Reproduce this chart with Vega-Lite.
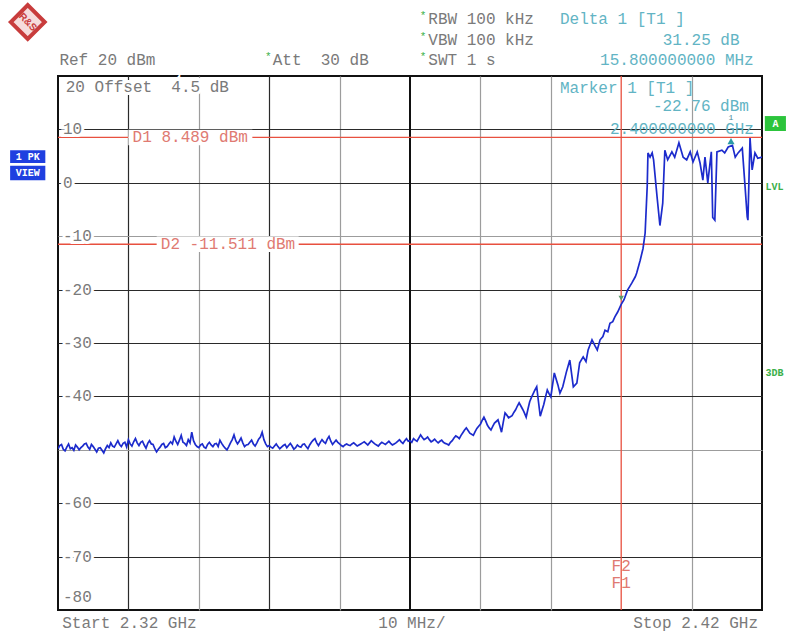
{
  "$schema": "https://vega.github.io/schema/vega-lite/v6.json",
  "width": 704,
  "height": 534,
  "autosize": {"type": "none"},
  "padding": {"left": 58, "top": 76, "right": 28, "bottom": 25},
  "background": "white",
  "config": {
    "view": {"stroke": "#111", "strokeWidth": 2},
    "text": {"font": "Liberation Mono", "fontSize": 16, "baseline": "middle", "align": "left"}
  },
  "datasets": {
    "trace": [
      {"f":2320.0,"v":-49.8},{"f":2320.25,"v":-49.2},{"f":2320.5,"v":-49.0},{"f":2320.75,"v":-49.9},{"f":2321.0,"v":-50.2},{"f":2321.25,"v":-49.5},{"f":2321.5,"v":-48.9},{"f":2321.75,"v":-49.8},
      {"f":2322.0,"v":-49.6},{"f":2322.25,"v":-50.1},{"f":2322.5,"v":-49.1},{"f":2322.75,"v":-49.5},{"f":2323.0,"v":-50.0},{"f":2323.25,"v":-49.6},{"f":2323.5,"v":-49.3},{"f":2323.75,"v":-48.9},
      {"f":2324.0,"v":-48.8},{"f":2324.25,"v":-49.5},{"f":2324.5,"v":-49.9},{"f":2324.75,"v":-49.0},{"f":2325.0,"v":-49.4},{"f":2325.25,"v":-49.9},{"f":2325.5,"v":-50.4},{"f":2325.75,"v":-49.7},
      {"f":2326.0,"v":-49.6},{"f":2326.25,"v":-50.1},{"f":2326.5,"v":-50.6},{"f":2326.75,"v":-49.8},{"f":2327.0,"v":-49.2},{"f":2327.25,"v":-49.6},{"f":2327.5,"v":-48.7},{"f":2327.75,"v":-49.3},
      {"f":2328.0,"v":-49.5},{"f":2328.25,"v":-48.9},{"f":2328.5,"v":-48.3},{"f":2328.75,"v":-49.0},{"f":2329.0,"v":-49.4},{"f":2329.25,"v":-48.8},{"f":2329.5,"v":-48.6},{"f":2329.75,"v":-49.5},
      {"f":2330.0,"v":-48.1},{"f":2330.25,"v":-48.9},{"f":2330.5,"v":-49.3},{"f":2330.75,"v":-48.5},{"f":2331.0,"v":-47.9},{"f":2331.25,"v":-48.7},{"f":2331.5,"v":-49.2},{"f":2331.75,"v":-48.6},
      {"f":2332.0,"v":-48.4},{"f":2332.25,"v":-49.1},{"f":2332.5,"v":-49.7},{"f":2332.75,"v":-48.8},{"f":2333.0,"v":-48.3},{"f":2333.25,"v":-48.9},{"f":2333.5,"v":-49.0},{"f":2333.75,"v":-49.8},
      {"f":2334.0,"v":-50.4},{"f":2334.25,"v":-49.9},{"f":2334.5,"v":-49.5},{"f":2334.75,"v":-49.0},{"f":2335.0,"v":-48.8},{"f":2335.25,"v":-49.6},{"f":2335.5,"v":-49.4},{"f":2335.75,"v":-48.9},
      {"f":2336.0,"v":-48.5},{"f":2336.25,"v":-48.9},{"f":2336.5,"v":-47.6},{"f":2336.75,"v":-48.4},{"f":2337.0,"v":-49.0},{"f":2337.25,"v":-48.2},{"f":2337.5,"v":-47.3},{"f":2337.75,"v":-48.6},
      {"f":2338.0,"v":-48.8},{"f":2338.25,"v":-49.2},{"f":2338.5,"v":-48.1},{"f":2338.75,"v":-48.7},{"f":2339.0,"v":-46.7},{"f":2339.25,"v":-48.3},{"f":2339.5,"v":-49.0},{"f":2339.75,"v":-49.4},
      {"f":2340.0,"v":-49.6},{"f":2340.25,"v":-49.1},{"f":2340.5,"v":-48.9},{"f":2340.75,"v":-49.5},{"f":2341.0,"v":-49.7},{"f":2341.25,"v":-49.0},{"f":2341.5,"v":-48.6},{"f":2341.75,"v":-49.1},
      {"f":2342.0,"v":-49.4},{"f":2342.25,"v":-48.9},{"f":2342.5,"v":-48.8},{"f":2342.75,"v":-49.4},{"f":2343.0,"v":-48.2},{"f":2343.25,"v":-48.8},{"f":2343.5,"v":-49.3},{"f":2343.75,"v":-49.7},
      {"f":2344.0,"v":-50.0},{"f":2344.25,"v":-49.4},{"f":2344.5,"v":-48.7},{"f":2344.75,"v":-48.1},{"f":2345.0,"v":-47.2},{"f":2345.25,"v":-48.3},{"f":2345.5,"v":-48.9},{"f":2345.75,"v":-48.4},
      {"f":2346.0,"v":-47.8},{"f":2346.25,"v":-48.7},{"f":2346.5,"v":-49.4},{"f":2346.75,"v":-49.1},{"f":2347.0,"v":-49.0},{"f":2347.25,"v":-48.6},{"f":2347.5,"v":-48.2},{"f":2347.75,"v":-48.9},
      {"f":2348.0,"v":-49.3},{"f":2348.25,"v":-48.7},{"f":2348.5,"v":-48.0},{"f":2348.75,"v":-47.6},{"f":2349.0,"v":-46.7},{"f":2349.25,"v":-48.1},{"f":2349.5,"v":-48.9},{"f":2349.75,"v":-49.4},
      {"f":2350.0,"v":-49.2},{"f":2350.25,"v":-49.5},{"f":2350.5,"v":-49.7},{"f":2350.75,"v":-49.3},{"f":2351.0,"v":-48.9},{"f":2351.25,"v":-49.4},{"f":2351.5,"v":-49.8},{"f":2351.75,"v":-49.5},
      {"f":2352.0,"v":-49.2},{"f":2352.25,"v":-49.0},{"f":2352.5,"v":-49.6},{"f":2352.75,"v":-49.2},{"f":2353.0,"v":-48.8},{"f":2353.25,"v":-49.3},{"f":2353.5,"v":-49.9},{"f":2353.75,"v":-49.6},
      {"f":2354.0,"v":-49.1},{"f":2354.25,"v":-49.4},{"f":2354.5,"v":-49.5},{"f":2354.75,"v":-49.0},{"f":2355.0,"v":-48.9},{"f":2355.25,"v":-49.4},{"f":2355.5,"v":-49.8},{"f":2355.75,"v":-49.1},
      {"f":2356.0,"v":-48.6},{"f":2356.25,"v":-48.2},{"f":2356.5,"v":-47.9},{"f":2356.75,"v":-48.7},{"f":2357.0,"v":-49.2},{"f":2357.25,"v":-48.6},{"f":2357.5,"v":-48.1},{"f":2357.75,"v":-48.5},
      {"f":2358.0,"v":-48.8},{"f":2358.25,"v":-48.0},{"f":2358.5,"v":-47.5},{"f":2358.75,"v":-48.4},{"f":2359.0,"v":-49.0},{"f":2359.25,"v":-48.6},{"f":2359.5,"v":-48.2},{"f":2359.75,"v":-48.6},
      {"f":2360.0,"v":-48.9},{"f":2360.25,"v":-49.2},{"f":2360.5,"v":-49.4},{"f":2360.75,"v":-49.1},{"f":2361.0,"v":-48.9},{"f":2361.25,"v":-49.1},{"f":2361.5,"v":-49.2},{"f":2361.75,"v":-48.9},
      {"f":2362.0,"v":-48.7},{"f":2362.25,"v":-49.0},{"f":2362.5,"v":-49.3},{"f":2362.75,"v":-49.1},{"f":2363.0,"v":-48.9},{"f":2363.25,"v":-48.7},{"f":2363.5,"v":-48.5},{"f":2363.75,"v":-48.8},
      {"f":2364.0,"v":-49.1},{"f":2364.25,"v":-48.7},{"f":2364.5,"v":-48.3},{"f":2364.75,"v":-48.6},{"f":2365.0,"v":-48.9},{"f":2365.25,"v":-49.1},{"f":2365.5,"v":-49.3},{"f":2365.75,"v":-48.9},
      {"f":2366.0,"v":-48.6},{"f":2366.25,"v":-48.8},{"f":2366.5,"v":-49.0},{"f":2366.75,"v":-48.7},{"f":2367.0,"v":-48.4},{"f":2367.25,"v":-48.8},{"f":2367.5,"v":-49.1},{"f":2367.75,"v":-48.9},
      {"f":2368.0,"v":-48.7},{"f":2368.25,"v":-48.4},{"f":2368.5,"v":-48.1},{"f":2368.75,"v":-48.5},{"f":2369.0,"v":-48.8},{"f":2369.25,"v":-48.3},{"f":2369.5,"v":-47.9},{"f":2369.75,"v":-48.4},
      {"f":2370.0,"v":-48.3},{"f":2370.25,"v":-48.6},{"f":2370.5,"v":-47.9},{"f":2370.75,"v":-48.2},{"f":2371.0,"v":-48.4},{"f":2371.25,"v":-47.8},{"f":2371.5,"v":-47.2},{"f":2371.75,"v":-47.7},
      {"f":2372.0,"v":-48.1},{"f":2372.25,"v":-47.9},{"f":2372.5,"v":-47.6},{"f":2372.75,"v":-48.1},{"f":2373.0,"v":-48.5},{"f":2373.25,"v":-48.3},{"f":2373.5,"v":-48.0},{"f":2373.75,"v":-48.4},
      {"f":2374.0,"v":-48.7},{"f":2374.25,"v":-48.4},{"f":2374.5,"v":-48.2},{"f":2374.75,"v":-48.6},{"f":2375.0,"v":-48.8},{"f":2375.25,"v":-48.9},{"f":2375.5,"v":-49.1},{"f":2375.75,"v":-48.6},
      {"f":2376.0,"v":-48.3},{"f":2376.25,"v":-47.8},{"f":2376.5,"v":-47.4},{"f":2376.75,"v":-47.6},{"f":2377.0,"v":-47.9},{"f":2377.25,"v":-47.3},{"f":2377.5,"v":-46.8},{"f":2377.75,"v":-46.3},
      {"f":2378.0,"v":-45.9},{"f":2378.25,"v":-46.4},{"f":2378.5,"v":-46.9},{"f":2378.75,"v":-47.1},{"f":2379.0,"v":-47.3},{"f":2379.25,"v":-46.6},{"f":2379.5,"v":-46.0},{"f":2379.75,"v":-45.6},
      {"f":2380.0,"v":-45.2},{"f":2380.25,"v":-44.5},{"f":2380.5,"v":-43.9},{"f":2380.75,"v":-44.6},{"f":2381.0,"v":-45.4},{"f":2381.25,"v":-45.9},{"f":2381.5,"v":-46.3},{"f":2381.75,"v":-45.6},
      {"f":2382.0,"v":-45.0},{"f":2382.25,"v":-44.7},{"f":2382.5,"v":-44.4},{"f":2382.75,"v":-45.5},{"f":2383.0,"v":-46.7},{"f":2383.25,"v":-44.8},{"f":2383.5,"v":-43.1},{"f":2383.75,"v":-43.5},
      {"f":2384.0,"v":-44.0},{"f":2384.25,"v":-43.8},{"f":2384.5,"v":-43.6},{"f":2384.75,"v":-43.0},{"f":2385.0,"v":-42.5},{"f":2385.25,"v":-41.8},{"f":2385.5,"v":-41.2},{"f":2385.75,"v":-41.8},
      {"f":2386.0,"v":-42.4},{"f":2386.25,"v":-43.1},{"f":2386.5,"v":-43.9},{"f":2386.75,"v":-42.4},{"f":2387.0,"v":-41.0},{"f":2387.25,"v":-40.2},{"f":2387.5,"v":-39.5},{"f":2387.75,"v":-38.8},
      {"f":2388.0,"v":-38.2},{"f":2388.25,"v":-41.0},{"f":2388.5,"v":-43.7},{"f":2388.75,"v":-42.6},{"f":2389.0,"v":-41.5},{"f":2389.25,"v":-40.1},{"f":2389.5,"v":-38.8},{"f":2389.75,"v":-39.5},
      {"f":2390.0,"v":-40.1},{"f":2390.5,"v":-35.6},{"f":2391.0,"v":-37.8},{"f":2391.3,"v":-39.4},{"f":2391.7,"v":-38.2},{"f":2392.2,"v":-35.5},{"f":2392.7,"v":-33.2},{"f":2393.2,"v":-38.2},{"f":2393.7,"v":-37.5},{"f":2394.1,"v":-33.7},
      {"f":2394.6,"v":-32.6},{"f":2395.0,"v":-33.5},{"f":2395.3,"v":-31.3},{"f":2395.85,"v":-29.4},{"f":2396.3,"v":-30.6},{"f":2396.6,"v":-31.3},{"f":2397.0,"v":-29.4},{"f":2397.4,"v":-28.8},{"f":2397.7,"v":-27.6},{"f":2398.1,"v":-27.9},
      {"f":2398.4,"v":-26.3},{"f":2398.8,"v":-26.0},{"f":2399.1,"v":-25.1},{"f":2399.5,"v":-24.2},{"f":2400.0,"v":-22.76},{"f":2400.4,"v":-21.9},{"f":2400.9,"v":-20.1},{"f":2401.5,"v":-18.8},{"f":2402.0,"v":-17.6},{"f":2402.2,"v":-16.9},
      {"f":2402.7,"v":-14.5},{"f":2403.1,"v":-12.3},{"f":2403.4,"v":-9.4},{"f":2403.7,"v":-0.5},{"f":2403.8,"v":5.6},{"f":2404.1,"v":4.8},{"f":2404.4,"v":5.6},{"f":2404.6,"v":4.3},{"f":2405.1,"v":-2.7},{"f":2405.5,"v":-8.0},
      {"f":2405.9,"v":-3.8},{"f":2406.2,"v":6.1},{"f":2406.6,"v":4.3},{"f":2407.2,"v":5.8},{"f":2407.6,"v":4.8},{"f":2408.2,"v":7.5},{"f":2408.8,"v":4.8},{"f":2409.3,"v":4.3},{"f":2409.8,"v":5.8},{"f":2410.2,"v":3.9},
      {"f":2410.8,"v":5.8},{"f":2411.2,"v":3.7},{"f":2411.6,"v":0.5},{"f":2411.9,"v":4.8},{"f":2412.3,"v":0.0},{"f":2412.8,"v":5.8},{"f":2413.0,"v":-6.5},{"f":2413.3,"v":-7.0},{"f":2413.6,"v":5.8},{"f":2414.3,"v":6.1},
      {"f":2414.7,"v":5.6},{"f":2415.2,"v":6.7},{"f":2415.8,"v":7.0},{"f":2416.2,"v":4.8},{"f":2416.6,"v":5.6},{"f":2417.2,"v":6.5},{"f":2417.6,"v":-0.8},{"f":2417.9,"v":-6.4},{"f":2418.0,"v":-7.0},{"f":2418.3,"v":8.4},
      {"f":2418.6,"v":2.4},{"f":2419.0,"v":5.6},{"f":2419.4,"v":4.6},{"f":2420.0,"v":4.8}
    ],
    "ylabels": [
      {"f":2320.7,"v":10,"t":"10"},{"f":2320.7,"v":0,"t":"0"},{"f":2320.7,"v":-10,"t":"-10"},{"f":2320.7,"v":-20,"t":"-20"},
      {"f":2320.7,"v":-30,"t":"-30"},{"f":2320.7,"v":-40,"t":"-40"},{"f":2320.7,"v":-60,"t":"-60"},{"f":2320.7,"v":-70,"t":"-70"},
      {"f":2320.7,"v":-77.6,"t":"-80"},{"f":2321.1,"v":17.9,"t":"20 Offset\u00a0\u00a04.5 dB"}
    ],
    "grayText": [
      {"f":2320.2,"v":23.0,"t":"Ref 20 dBm"},
      {"f":2350.5,"v":23.0,"t":"Att\u00a0\u00a030 dB"},
      {"f":2372.6,"v":30.7,"t":"RBW 100 kHz"},
      {"f":2372.6,"v":26.7,"t":"VBW 100 kHz"},
      {"f":2372.6,"v":23.0,"t":"SWT 1 s"},
      {"f":2320.6,"v":-82.4,"t":"Start 2.32 GHz"},
      {"f":2365.5,"v":-82.4,"t":"10 MHz/"},
      {"f":2401.7,"v":-82.4,"t":"Stop 2.42 GHz"}
    ],
    "stars": [
      {"f":2349.4,"v":23.6},{"f":2371.4,"v":31.3},{"f":2371.4,"v":27.3},{"f":2371.4,"v":23.6}
    ],
    "cyanText": [
      {"f":2391.3,"v":30.7,"t":"Delta 1 [T1 ]"},
      {"f":2405.9,"v":26.7,"t":"31.25 dB"},
      {"f":2397.0,"v":23.0,"t":"15.800000000 MHz"},
      {"f":2391.3,"v":17.7,"t":"Marker 1 [T1 ]"},
      {"f":2404.5,"v":14.4,"t":"-22.76 dBm"},
      {"f":2398.4,"v":10.0,"t":"2.400000000 GHz"}
    ],
    "markerNum": [{"f":2415.6,"v":12.1,"t":"1"}],
    "dlines": [{"v":8.489},{"v":-11.511}],
    "d1box": [{"f":2338.8,"v":8.489}],
    "d2box": [{"f":2344.1,"v":-11.511}],
    "dlabels": [
      {"f":2330.6,"v":8.489,"t":"D1 8.489 dBm"},
      {"f":2334.6,"v":-11.511,"t":"D2 -11.511 dBm"}
    ],
    "flines": [{"f":2400}],
    "flabels": [
      {"f":2400,"v":-71.8,"t":"F2"},
      {"f":2400,"v":-74.9,"t":"F1"}
    ],
    "blueBoxes": [
      {"f":2313.2,"f2":2318.2,"v":6.1,"v2":3.7,"fm":2315.7,"vm":4.9,"t":"1 PK"},
      {"f":2313.2,"f2":2318.2,"v":3.2,"v2":0.5,"fm":2315.7,"vm":1.85,"t":"VIEW"}
    ],
    "greenBoxes": [
      {"f":2420.4,"f2":2423.4,"v":12.5,"v2":9.7,"fm":2421.9,"vm":11.1,"t":"A"}
    ],
    "greenText": [
      {"f":2420.5,"v":-0.8,"t":"LVL"},
      {"f":2420.5,"v":-35.6,"t":"3DB"}
    ],
    "logo": [{"f":2315.7,"v":30.1,"t":"R&S"}],
    "deltaMarker": [{"f":2415.6,"v":7.8}],
    "marker1": [{"f":2400,"v":-21.6}]
  },
  "layer": [
    {
      "data": {"name": "trace"},
      "mark": {"type": "line", "opacity": 0},
      "encoding": {
        "x": {"field": "f", "type": "quantitative",
              "scale": {"domain": [2320, 2420], "nice": false, "zero": false},
              "axis": {"title": null, "labels": false, "ticks": false, "domain": false, "grid": true,
                       "values": [2330, 2340, 2350, 2360, 2380, 2390, 2410],
                       "gridColor": {"condition": {"test": "indexof([2330,2350], datum.value) >= 0", "value": "#2a2a2a"}, "value": "#9c9c9c"},
                       "gridWidth": 1.2, "gridOpacity": 1}},
        "y": {"field": "v", "type": "quantitative",
              "scale": {"domain": [-80, 20], "nice": false, "zero": false},
              "axis": {"title": null, "labels": false, "ticks": false, "domain": false, "grid": true,
                       "values": [10, 0, -10, -20, -30, -40, -50, -60, -70],
                       "gridColor": {"condition": {"test": "indexof([-10,-50], datum.value) >= 0", "value": "#9c9c9c"}, "value": "#2a2a2a"},
                       "gridWidth": 1.2, "gridOpacity": 1}}
      }
    },
    {
      "data": {"values": [{"f": 2370}]},
      "mark": {"type": "rule", "color": "#111", "strokeWidth": 2},
      "encoding": {"x": {"field": "f", "type": "quantitative"}}
    },
    {
      "data": {"name": "dlines"},
      "mark": {"type": "rule", "color": "#e8503f", "strokeWidth": 1.3},
      "encoding": {"y": {"field": "v", "type": "quantitative"}}
    },
    {
      "data": {"name": "flines"},
      "mark": {"type": "rule", "color": "#e8503f", "strokeWidth": 1.3},
      "encoding": {"x": {"field": "f", "type": "quantitative"}}
    },
    {
      "data": {"name": "d1box"},
      "mark": {"type": "point", "shape": "M-1,-0.125H1V0.125H-1Z", "size": 15376, "filled": true, "color": "white", "opacity": 1, "strokeWidth": 0},
      "encoding": {"x": {"field": "f", "type": "quantitative"}, "y": {"field": "v", "type": "quantitative"}}
    },
    {
      "data": {"name": "d2box"},
      "mark": {"type": "point", "shape": "M-1,-0.11H1V0.11H-1Z", "size": 20164, "filled": true, "color": "white", "opacity": 1, "strokeWidth": 0},
      "encoding": {"x": {"field": "f", "type": "quantitative"}, "y": {"field": "v", "type": "quantitative"}}
    },
    {
      "data": {"name": "dlabels"},
      "mark": {"type": "text", "color": "#e07a72", "clip": false},
      "encoding": {"x": {"field": "f", "type": "quantitative"}, "y": {"field": "v", "type": "quantitative"}, "text": {"field": "t"}}
    },
    {
      "data": {"name": "ylabels"},
      "mark": {"type": "text", "stroke": "white", "strokeWidth": 6, "fill": "white", "clip": false},
      "encoding": {"x": {"field": "f", "type": "quantitative"}, "y": {"field": "v", "type": "quantitative"}, "text": {"field": "t"}}
    },
    {
      "data": {"name": "ylabels"},
      "mark": {"type": "text", "color": "#7a7a7a", "clip": false},
      "encoding": {"x": {"field": "f", "type": "quantitative"}, "y": {"field": "v", "type": "quantitative"}, "text": {"field": "t"}}
    },
    {
      "data": {"name": "cyanText"},
      "mark": {"type": "text", "color": "#62b4c4", "clip": false},
      "encoding": {"x": {"field": "f", "type": "quantitative"}, "y": {"field": "v", "type": "quantitative"}, "text": {"field": "t"}}
    },
    {
      "data": {"name": "markerNum"},
      "mark": {"type": "text", "color": "#4a8a9a", "fontSize": 8, "align": "center", "clip": false},
      "encoding": {"x": {"field": "f", "type": "quantitative"}, "y": {"field": "v", "type": "quantitative"}, "text": {"field": "t"}}
    },
    {
      "data": {"name": "trace"},
      "mark": {"type": "line", "color": "#1c2bcc", "strokeWidth": 1.7, "clip": true},
      "encoding": {"x": {"field": "f", "type": "quantitative"}, "y": {"field": "v", "type": "quantitative"}}
    },
    {
      "data": {"name": "flabels"},
      "mark": {"type": "text", "color": "#e07a72", "align": "center", "clip": false},
      "encoding": {"x": {"field": "f", "type": "quantitative"}, "y": {"field": "v", "type": "quantitative"}, "text": {"field": "t"}}
    },
    {
      "data": {"name": "deltaMarker"},
      "mark": {"type": "point", "shape": "triangle-up", "filled": true, "size": 50, "color": "#2a9aa6", "opacity": 1},
      "encoding": {"x": {"field": "f", "type": "quantitative"}, "y": {"field": "v", "type": "quantitative"}}
    },
    {
      "data": {"name": "marker1"},
      "mark": {"type": "point", "shape": "triangle-down", "filled": true, "size": 30, "color": "#5e9a6c", "opacity": 1},
      "encoding": {"x": {"field": "f", "type": "quantitative"}, "y": {"field": "v", "type": "quantitative"}}
    },
    {
      "data": {"name": "grayText"},
      "mark": {"type": "text", "color": "#7a7a7a", "clip": false},
      "encoding": {"x": {"field": "f", "type": "quantitative"}, "y": {"field": "v", "type": "quantitative"}, "text": {"field": "t"}}
    },
    {
      "data": {"name": "stars"},
      "mark": {"type": "text", "color": "#3cb04a", "fontSize": 11, "text": "*", "clip": false},
      "encoding": {"x": {"field": "f", "type": "quantitative"}, "y": {"field": "v", "type": "quantitative"}}
    },
    {
      "data": {"name": "blueBoxes"},
      "mark": {"type": "rect", "color": "#1f3fe0", "clip": false},
      "encoding": {"x": {"field": "f", "type": "quantitative"}, "x2": {"field": "f2"}, "y": {"field": "v", "type": "quantitative"}, "y2": {"field": "v2"}}
    },
    {
      "data": {"name": "blueBoxes"},
      "mark": {"type": "text", "color": "white", "fontSize": 10, "fontWeight": "bold", "align": "center", "clip": false},
      "encoding": {"x": {"field": "fm", "type": "quantitative"}, "y": {"field": "vm", "type": "quantitative"}, "text": {"field": "t"}}
    },
    {
      "data": {"name": "greenBoxes"},
      "mark": {"type": "rect", "color": "#2cc43c", "clip": false},
      "encoding": {"x": {"field": "f", "type": "quantitative"}, "x2": {"field": "f2"}, "y": {"field": "v", "type": "quantitative"}, "y2": {"field": "v2"}}
    },
    {
      "data": {"name": "greenBoxes"},
      "mark": {"type": "text", "color": "white", "fontSize": 10, "fontWeight": "bold", "align": "center", "clip": false},
      "encoding": {"x": {"field": "fm", "type": "quantitative"}, "y": {"field": "vm", "type": "quantitative"}, "text": {"field": "t"}}
    },
    {
      "data": {"name": "greenText"},
      "mark": {"type": "text", "color": "#3cb04a", "fontSize": 10, "fontWeight": "bold", "clip": false},
      "encoding": {"x": {"field": "f", "type": "quantitative"}, "y": {"field": "v", "type": "quantitative"}, "text": {"field": "t"}}
    },
    {
      "data": {"name": "logo"},
      "mark": {"type": "point", "shape": "diamond", "filled": true, "size": 1150, "fill": "#f6dcdc", "stroke": "#c83c3c", "strokeWidth": 4, "opacity": 1, "clip": false},
      "encoding": {"x": {"field": "f", "type": "quantitative"}, "y": {"field": "v", "type": "quantitative"}}
    },
    {
      "data": {"name": "logo"},
      "mark": {"type": "text", "color": "#c83c3c", "fontSize": 10, "fontWeight": "bold", "align": "center", "angle": 45, "font": "Liberation Sans", "clip": false},
      "encoding": {"x": {"field": "f", "type": "quantitative"}, "y": {"field": "v", "type": "quantitative"}, "text": {"field": "t"}}
    }
  ]
}
